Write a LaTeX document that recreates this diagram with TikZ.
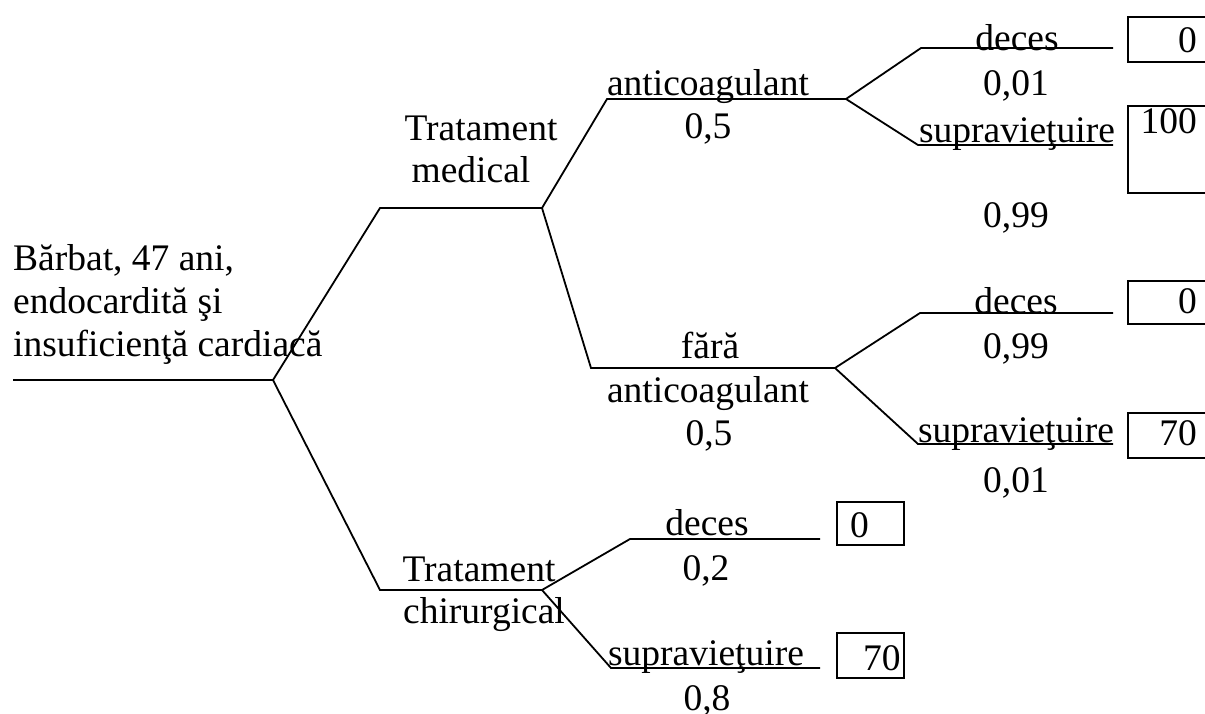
\documentclass[tikz,border=0pt]{standalone}
\usepackage{fontspec}
\setmainfont{Liberation Serif}
\begin{document}
\begin{tikzpicture}[x=1pt,y=-1pt,
  branch/.style={line width=1.8pt, line join=miter},
  lbl/.style={inner sep=0pt, anchor=base, font=\fontsize{37.5}{42}\selectfont},
  valbox/.style={draw, line width=1.8pt, inner sep=0pt, anchor=north west}]
\useasboundingbox (0,0) rectangle (1205,713);
\clip (0,0) rectangle (1205,713);

% decision tree points
\coordinate (r0) at (13,380);
\coordinate (r)  at (273,380);
\coordinate (m0) at (380,208);
\coordinate (m)  at (542,208);
\coordinate (c0) at (380,590);
\coordinate (c)  at (542,590);
\coordinate (a0) at (607,99);
\coordinate (a)  at (846,99);
\coordinate (f0) at (591,368);
\coordinate (f)  at (835,368);
\coordinate (ad0) at (921,48);
\coordinate (ad1) at (1113,48);
\coordinate (as0) at (918,145);
\coordinate (as1) at (1113,145);
\coordinate (fd0) at (920,313);
\coordinate (fd1) at (1113,313);
\coordinate (fs0) at (918,444);
\coordinate (fs1) at (1113,444);
\coordinate (cd0) at (630,539);
\coordinate (cd1) at (820,539);
\coordinate (cs0) at (611,668);
\coordinate (cs1) at (820,668);

% branches
\draw[branch] (r0) -- (r);
\draw[branch] (r) -- (m0) -- (m);
\draw[branch] (r) -- (c0) -- (c);
\draw[branch] (m) -- (a0) -- (a);
\draw[branch] (m) -- (f0) -- (f);
\draw[branch] (a) -- (ad0) -- (ad1);
\draw[branch] (a) -- (as0) -- (as1);
\draw[branch] (f) -- (fd0) -- (fd1);
\draw[branch] (f) -- (fs0) -- (fs1);
\draw[branch] (c) -- (cd0) -- (cd1);
\draw[branch] (c) -- (cs0) -- (cs1);

% root label
\node[lbl, anchor=base west] (t1) at (13,270) {Bărbat, 47 ani,};
\node[lbl, anchor=base west] (t2) at (13,313) {endocardită şi};
\node[lbl, anchor=base west] (t3) at (13,356) {insuficienţă cardiacă};

% first level
\node[lbl] (tm1) at (481,140) {Tratament};
\node[lbl] (tm2) at (471,182) {medical};
\node[lbl] (tc1) at (479,581) {Tratament};
\node[lbl] (tc2) at (484,623) {chirurgical};

% second level
\node[lbl] (an1) at (708,95) {anticoagulant};
\node[lbl] (pa1) at (708,138) {0,5};
\node[lbl] (fa1) at (710,358) {fără};
\node[lbl] (fa2) at (708,402) {anticoagulant};
\node[lbl] (pa2) at (709,445) {0,5};
\node[lbl] (cd) at (707,535) {deces};
\node[lbl] (pcd) at (706,580) {0,2};
\node[lbl] (cs) at (706,665) {supravieţuire};
\node[lbl] (pcs) at (707,710) {0,8};

% third level
\node[lbl] (ad) at (1017,50) {deces};
\node[lbl] (pad) at (1016,95) {0,01};
\node[lbl] (as) at (1017,142) {supravieţuire};
\node[lbl] (pas) at (1016,227) {0,99};
\node[lbl] (fd) at (1016,313) {deces};
\node[lbl] (pfd) at (1016,358) {0,99};
\node[lbl] (fs) at (1016,442) {supravieţuire};
\node[lbl] (pfs) at (1016,492) {0,01};

% outcome boxes
\node[valbox, minimum width=100pt, minimum height=45pt] (b1) at (1127,16) {};
\node[valbox, minimum width=100pt, minimum height=87pt] (b2) at (1127,105) {};
\node[valbox, minimum width=100pt, minimum height=43pt] (b3) at (1127,280) {};
\node[valbox, minimum width=100pt, minimum height=45pt] (b4) at (1127,412) {};
\node[valbox, minimum width=67pt, minimum height=43pt] (b5) at (836,501) {};
\node[valbox, minimum width=67pt, minimum height=45pt] (b6) at (836,632) {};

\node[lbl, anchor=base east] (v1) at (1197,52) {0};
\node[lbl, anchor=base east] (v2) at (1197,133) {100};
\node[lbl, anchor=base east] (v3) at (1197,313) {0};
\node[lbl, anchor=base east] (v4) at (1197,445) {70};
\node[lbl, anchor=base west] (v5) at (850,537) {0};
\node[lbl, anchor=base west] (v6) at (863,670) {70};
\end{tikzpicture}
\end{document}
